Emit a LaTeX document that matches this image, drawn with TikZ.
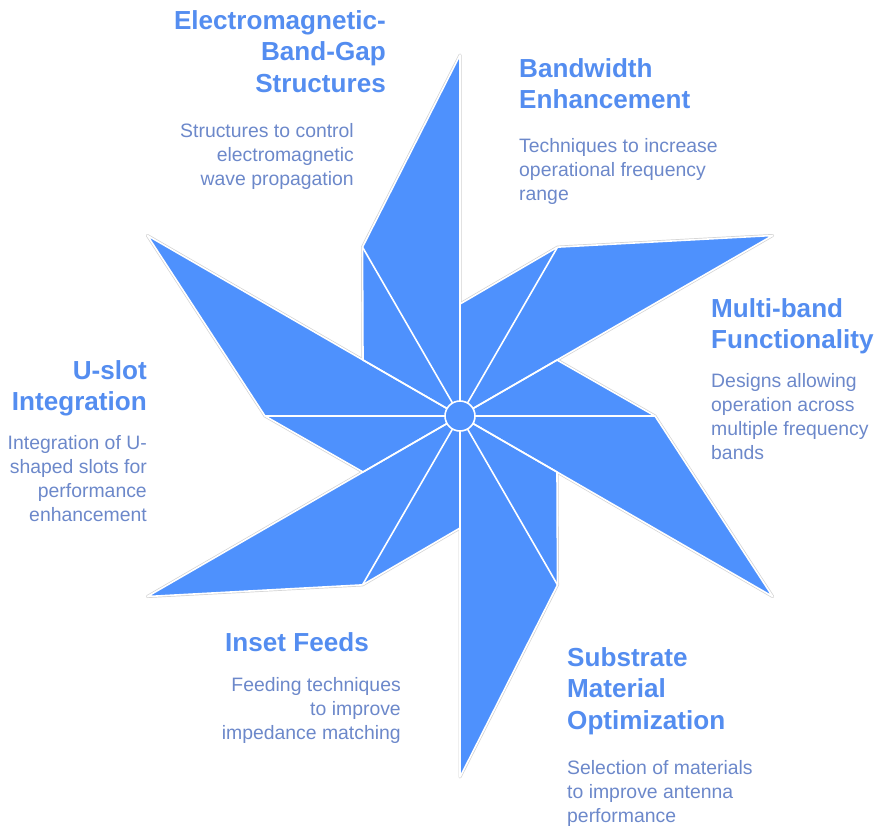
\documentclass[tikz,border=0pt]{standalone}
\usepackage{fontspec}
\setmainfont{Liberation Sans}
\definecolor{bladeblue}{RGB}{78,145,253}
\definecolor{headblue}{RGB}{84,141,240}
\definecolor{textblue}{RGB}{108,136,202}
\tikzset{
    head/.style={font=\bfseries\fontsize{26.1}{31.5}\selectfont, text=headblue, inner sep=0pt},
    blurb/.style={font=\fontsize{19.4}{24}\selectfont, text=textblue, inner sep=0pt},
    seam/.style={draw=white, line width=1.6pt, line join=round},
}
\begin{document}
\begin{tikzpicture}[x=1pt,y=-1pt]
    \useasboundingbox (0,0) rectangle (874,825);
    \coordinate (c) at (460,416);
    % six blades, each made of two wedges
    \begin{scope}[shift={(c)}]
        \foreach \k [evaluate={\a=-90-60*\k;\b=\a-30;\e=\a-60}] in {0,1,...,5}
        {
            \draw[gray!35, line width=3pt, line join=round] (0,0) -- (\a:361) -- (\b:195) -- (\e:112) -- cycle;
        }
        \foreach \k [evaluate={\a=-90-60*\k;\b=\a-30;\e=\a-60}] in {0,1,...,5}
        {
            \fill[bladeblue] (0,0) -- (\a:361) -- (\b:195) -- (\e:112) -- cycle;
        }
        \foreach \k [evaluate={\a=-90-60*\k;\b=\a-30;\e=\a-60}] in {0,1,...,5}
        {
            \draw[seam] (0,0) -- (\a:361) -- (\b:195) -- (\e:112) -- cycle;
            \draw[seam] (0,0) -- (\b:195);
        }
    \end{scope}
    \node[circle, fill=bladeblue, draw=white, line width=1.6pt, minimum size=30pt, inner sep=0pt] (hub) at (c) {};

    % labels
    \node[head, anchor=north east, align=right] (ebgHead) at (386,10) {Electromagnetic-\\Band-Gap\\Structures};
    \node[blurb, anchor=north east, align=right] (ebgText) at (354,123) {Structures to control\\electromagnetic\\wave propagation};

    \node[head, anchor=north west, align=left] (bwHead) at (519,58) {Bandwidth\\Enhancement};
    \node[blurb, anchor=north west, align=left] (bwText) at (519,138) {Techniques to increase\\operational frequency\\range};

    \node[head, anchor=north west, align=left] (mbHead) at (711,298) {Multi-band\\Functionality};
    \node[blurb, anchor=north west, align=left] (mbText) at (711,373) {Designs allowing\\operation across\\multiple frequency\\bands};

    \node[head, anchor=north east, align=right] (usHead) at (147,360) {U-slot\\Integration};
    \node[blurb, anchor=north east, align=right] (usText) at (147,435) {Integration of U-\\shaped slots for\\performance\\enhancement};

    \node[head, anchor=north east, align=right] (ifHead) at (369,632) {Inset Feeds};
    \node[blurb, anchor=north east, align=right] (ifText) at (401,677) {Feeding techniques\\to improve\\impedance matching};

    \node[head, anchor=north west, align=left] (smHead) at (567,647) {Substrate\\Material\\Optimization};
    \node[blurb, anchor=north west, align=left] (smText) at (567,760) {Selection of materials\\to improve antenna\\performance};
\end{tikzpicture}
\end{document}
